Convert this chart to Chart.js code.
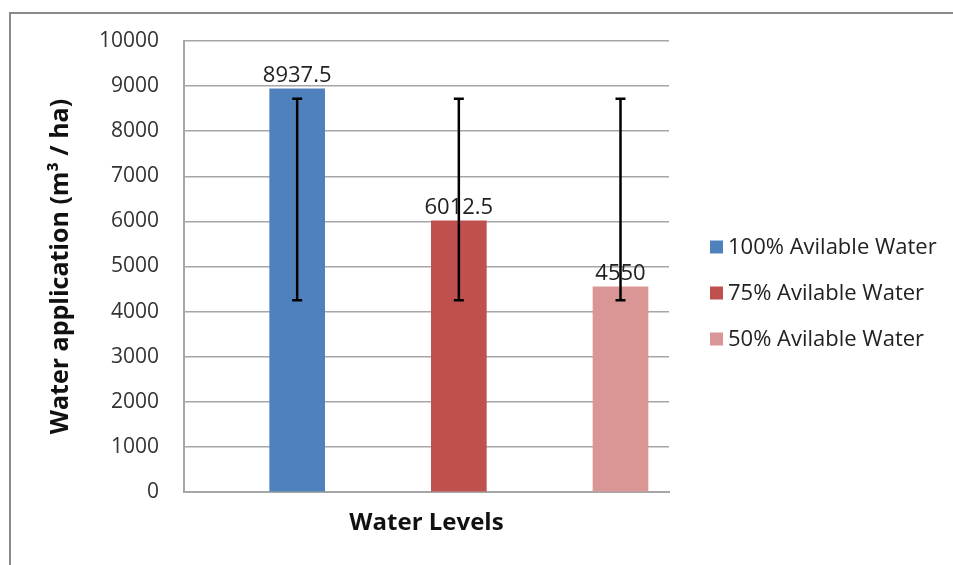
<!DOCTYPE html>
<html>
<head>
<meta charset="utf-8">
<title>Water application</title>
<script src="https://cdn.jsdelivr.net/npm/chart.js@4.4.0/dist/chart.umd.min.js"></script>
<style>
  html, body { margin: 0; padding: 0; background: #fff; overflow: hidden; }
  #wrap { position: relative; width: 953px; height: 565px; }
  #frame { position: absolute; left: 9px; top: 12px; width: 1000px; height: 600px; border: 2px solid #8a8a8a; box-sizing: border-box; }
  canvas { position: absolute; left: 0; top: 0; }
</style>
</head>
<body>
<div id="wrap">
  <div id="frame"></div>
  <canvas id="waterChart" width="953" height="565"></canvas>
</div>
<script>
// data
var levels = ['100% Avilable Water', '75% Avilable Water', '50% Avilable Water'];
var levelPos = [1, 2, 3];
var waterValues = [8937.5, 6012.5, 4550];
var errLow = [4250, 4250, 4250];
var errHigh = [8720, 8720, 8720];
var yMin = 0;
var yMax = 10000;
var yStep = 1000;
var barColors = ['#4F81BD', '#C0504D', '#D99694'];

var fontFamily = '"Open Sans", sans-serif';

var datasets = levels.map(function(name, i) {
  return {
    label: name,
    data: [{ x: levelPos[i], y: waterValues[i] }],
    backgroundColor: barColors[i],
    borderWidth: 0,
    barThickness: 55,
    grouped: false
  };
});

// value labels above the bars, then the error bars on top of them
var barExtras = {
  id: 'barExtras',
  afterDatasetsDraw: function(chart) {
    var ctx = chart.ctx;
    var yScale = chart.scales.y;
    ctx.save();
    ctx.font = '22px ' + fontFamily;
    ctx.fillStyle = '#222';
    ctx.textAlign = 'center';
    ctx.textBaseline = 'bottom';
    chart.data.datasets.forEach(function(ds, i) {
      var bar = chart.getDatasetMeta(i).data[0];
      ctx.fillText(String(waterValues[i]), bar.x, bar.y - 2);
    });
    ctx.strokeStyle = '#000';
    ctx.lineWidth = 2.5;
    chart.data.datasets.forEach(function(ds, i) {
      var bar = chart.getDatasetMeta(i).data[0];
      var yl = yScale.getPixelForValue(errLow[i]);
      var yh = yScale.getPixelForValue(errHigh[i]);
      ctx.beginPath();
      ctx.moveTo(bar.x, yl); ctx.lineTo(bar.x, yh);
      ctx.moveTo(bar.x - 5, yl); ctx.lineTo(bar.x + 5, yl);
      ctx.moveTo(bar.x - 5, yh); ctx.lineTo(bar.x + 5, yh);
      ctx.stroke();
    });
    ctx.restore();
  }
};

// legend on the right, drawn by hand so it sits where the original one does
var sideLegend = {
  id: 'sideLegend',
  afterDraw: function(chart) {
    var ctx = chart.ctx;
    var area = chart.chartArea;
    var x0 = area.right + 41;
    var rowH = 46;
    var mid = area.top + 252;
    ctx.save();
    ctx.font = '22px ' + fontFamily;
    ctx.textBaseline = 'middle';
    ctx.textAlign = 'left';
    chart.data.datasets.forEach(function(ds, i) {
      var y = mid + (i - 1) * rowH;
      ctx.fillStyle = ds.backgroundColor;
      ctx.fillRect(x0, y - 6.5, 13, 13);
      ctx.fillStyle = '#222';
      ctx.fillText(ds.label, x0 + 18, y + 1);
    });
    ctx.restore();
  }
};

var ctx = document.getElementById('waterChart').getContext('2d');

var myChart = new Chart(ctx, {
  type: 'bar',
  data: { datasets: datasets },
  options: {
    responsive: false,
    animation: false,
    layout: { padding: { left: 0, top: 41, right: 284, bottom: 0 } },
    plugins: {
      legend: { display: false },
      tooltip: { enabled: false }
    },
    scales: {
      x: {
        type: 'linear',
        min: 0.3,
        max: 3.3,
        offset: false,
        grid: { display: false },
        border: { display: true, color: '#a6a6a6', width: 2 },
        ticks: { display: false },
        title: {
          display: true,
          text: 'Water Levels',
          color: '#111',
          font: { family: fontFamily, size: 24, weight: 'bold' },
          padding: { top: 10, bottom: 27 }
        },
        afterFit: function(scale) { scale.height = 73; }
      },
      y: {
        min: yMin,
        max: yMax,
        grid: { color: '#a6a6a6', lineWidth: 1.5, drawTicks: false },
        border: { display: true, color: '#a6a6a6', width: 2 },
        ticks: {
          stepSize: yStep,
          padding: 25,
          color: '#333',
          font: { family: fontFamily, size: 21 },
          callback: function(v) { return String(v); }
        },
        title: {
          display: true,
          text: 'Water application (m\u00b3 / ha)',
          color: '#111',
          font: { family: fontFamily, size: 25, weight: 'bold' },
          padding: { top: 46, bottom: 0 }
        },
        afterFit: function(scale) { scale.width = 184; }
      }
    }
  },
  plugins: [barExtras, sideLegend]
});
</script>
</body>
</html>
